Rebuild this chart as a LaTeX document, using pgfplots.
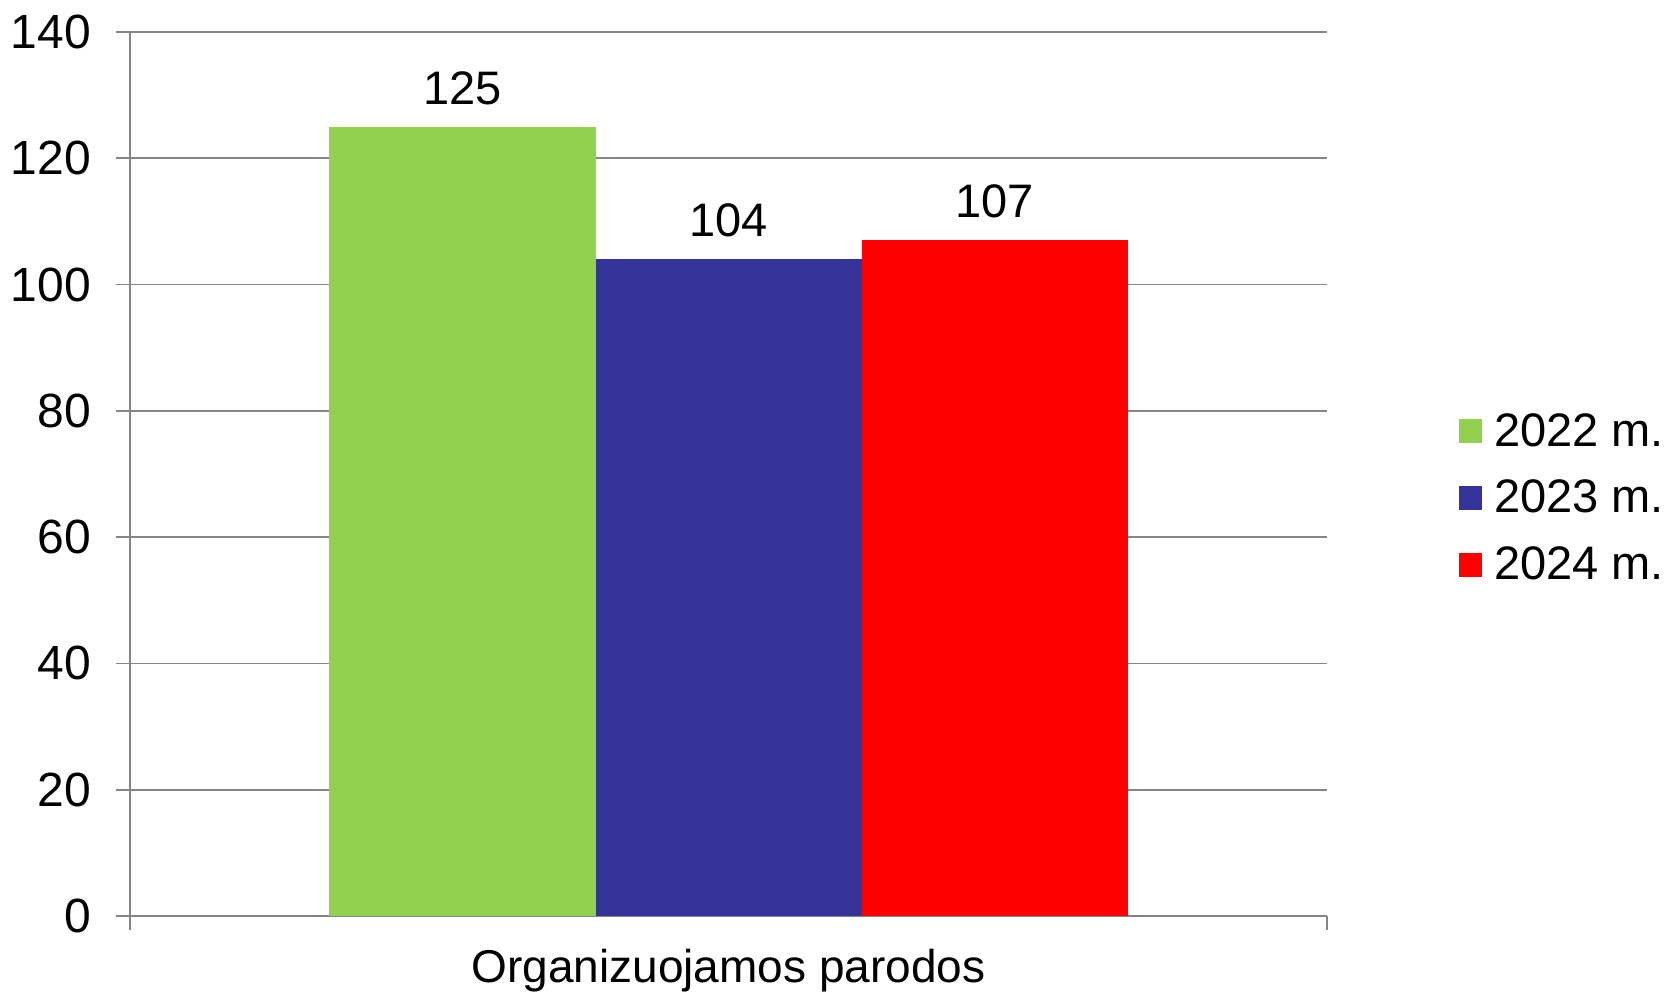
\documentclass[border=0pt]{standalone}
\usepackage{pgfplots}
\pgfplotsset{compat=1.18}
\usepackage{fontspec}
\setmainfont{Liberation Sans}

\definecolor{cgreen}{HTML}{92D050}
\definecolor{cblue}{HTML}{333399}
\definecolor{cred}{HTML}{FF0000}
\definecolor{cgrid}{HTML}{868686}

\begin{document}
\begin{tikzpicture}
  % page size: 1664x997 px at 0.5pt per px, axis box at (0,0)
  \path[use as bounding box] (-65pt,-40.5pt) rectangle (767pt,458pt);
  \begin{axis}[
      at={(0,0)}, anchor=south west,
      scale only axis,
      width=598.5pt, height=442pt,
      ybar=0pt, bar width=133pt,
      xmin=-0.5, xmax=0.5,
      ymin=0, ymax=140,
      ytick={0,20,...,140},
      xtick={0},
      xticklabels={Organizuojamos parodos},
      major x tick style={draw=none},
      extra x ticks={-0.5,0.5},
      extra x tick labels={},
      extra x tick style={major x tick style={draw=cgrid, line width=0.8pt}},
      tick align=outside,
      major tick length=7pt,
      axis x line*=bottom,
      axis y line*=left,
      axis line style={draw=cgrid, line width=0.8pt, -},
      ymajorgrids,
      grid style={draw=cgrid, line width=0.8pt},
      tick style={draw=cgrid, line width=0.8pt},
      font=\fontsize{23.5}{27}\selectfont,
      tick label style={font=\fontsize{24}{28}\selectfont},
      yticklabel style={xshift=-9pt},
      xticklabel style={yshift=-6pt, font=\fontsize{23}{27}\selectfont},
      /pgf/number format/assume math mode=true,
      nodes near coords,
      every node near coord/.append style={font=\fontsize{23.5}{27}\selectfont, yshift=7.5pt},
      legend style={at={(1.105,0.4729)}, anchor=west, draw=none, fill=none,
        font=\fontsize{23.5}{27}\selectfont, row sep=11.5pt},
      legend cell align=left,
      legend image code/.code={\fill[#1] (0pt,-6pt) rectangle (11.5pt,6pt); \path (15.5pt,0pt);},
    ]
    \addplot[fill=cgreen, draw=none] coordinates {(0,125)};
    \addplot[fill=cblue, draw=none] coordinates {(0,104)};
    \addplot[fill=cred, draw=none] coordinates {(0,107)};
    \legend{2022 m.,2023 m.,2024 m.}
  \end{axis}
\end{tikzpicture}
\end{document}
